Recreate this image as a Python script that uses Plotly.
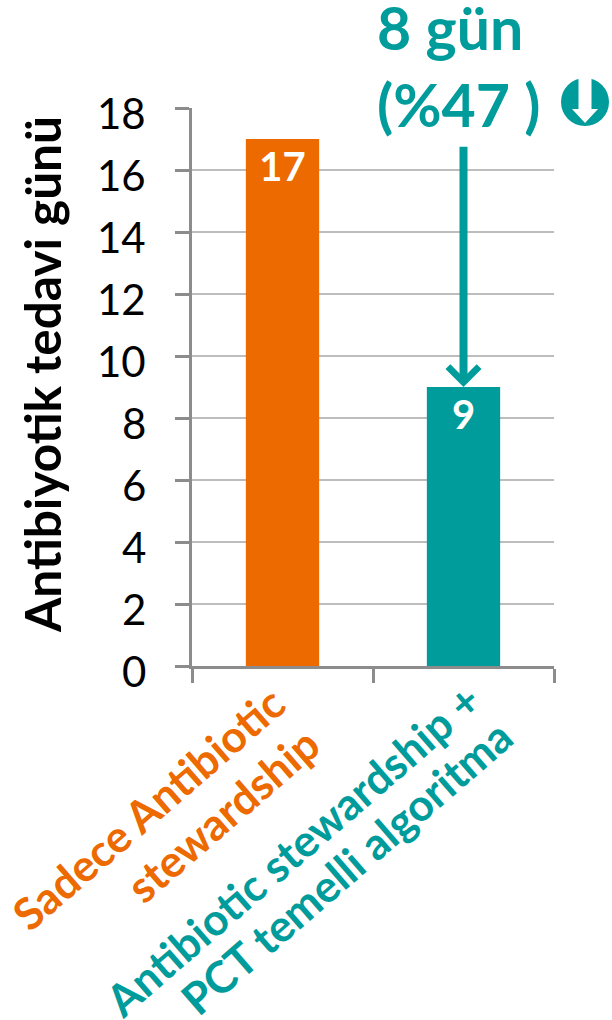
import plotly.graph_objects as go

# Treatment days per study arm
category_lines = [
    ["Sadece Antibiotic", "stewardship"],
    ["Antibiotic stewardship +", "PCT temelli algoritma"],
]
days = [17, 9]
bar_colors = ["#EC6A00", "#009B9B"]
y_ticks = [0, 2, 4, 6, 8, 10, 12, 14, 16, 18]
y_title = "Antibiyotik tedavi günü"
reduction_lines = "8 gün<br>(%47 )"
arrow_start = 16.8

FONT = "Lato, 'Open Sans', sans-serif"
TEAL = "#009B9B"
GREY = "#8C8C8C"
GRID = "#BDBDBD"
W, H = 612, 1020
L, R, T, B = 192, 554, 108, 666


def px(x):
    return (x - L) / (R - L)


def py(y):
    return (B - y) / (B - T)


fig = go.Figure(
    go.Bar(
        x=[0, 1],
        y=days,
        width=0.405,
        marker=dict(color=bar_colors, line_width=0),
        text=[str(d) for d in days],
        textposition="inside",
        insidetextanchor="end",
        textangle=0,
        textfont=dict(family=FONT, size=40, color="white", weight="bold"),
        cliponaxis=False,
        hoverinfo="skip",
    )
)

fig.update_layout(
    width=W,
    height=H,
    autosize=False,
    margin=dict(l=L, r=W - R, t=T, b=H - B),
    paper_bgcolor="white",
    plot_bgcolor="white",
    showlegend=False,
    font=dict(family=FONT),
)

fig.update_xaxes(
    range=[-0.5, 1.5],
    tickvals=[-0.5, 0.5, 1.5],
    ticktext=["", "", ""],
    ticks="outside",
    ticklen=14,
    tickwidth=3,
    tickcolor=GREY,
    showline=True,
    linecolor=GREY,
    linewidth=3,
    showgrid=False,
    zeroline=False,
)
fig.update_yaxes(
    range=[0, 18],
    tickvals=y_ticks,
    showticklabels=False,
    ticks="outside",
    ticklen=14,
    tickwidth=3,
    tickcolor=GREY,
    showline=True,
    linecolor=GREY,
    linewidth=3,
    showgrid=True,
    gridcolor=GRID,
    gridwidth=2,
    zeroline=False,
    title=None,
)

# Value labels sit a little below their grid lines
for tick in y_ticks:
    fig.add_annotation(
        x=px(148), y=tick, xref="paper", yref="y", yshift=-5,
        text=str(tick), showarrow=False, xanchor="right", yanchor="middle",
        font=dict(family=FONT, size=42, color="black"),
    )

# Axis title
fig.add_annotation(
    x=px(42), y=py(375), xref="paper", yref="paper",
    text=y_title, textangle=-90, showarrow=False, xanchor="center", yanchor="middle",
    font=dict(family=FONT, size=49.5, color="black", weight="bold"),
)

# Slanted category labels in each bar's colour, one annotation per line
line_centres = [[(148, 808), (222, 815)], [(292, 850), (346, 867)]]
for lines, color, centres in zip(category_lines, bar_colors, line_centres):
    for line, (lx, ly) in zip(lines, centres):
        fig.add_annotation(
            x=px(lx), y=py(ly), xref="paper", yref="paper",
            text=line, textangle=-41, showarrow=False,
            xanchor="center", yanchor="middle",
            font=dict(family=FONT, size=44, color=color, weight="bold"),
        )

# Reduction arrow between the two bar heights
fig.add_annotation(
    x=1, y=days[1], xref="x", yref="y",
    ax=1, ay=arrow_start, axref="x", ayref="y",
    text="", showarrow=True, arrowhead=4, arrowsize=0.75, arrowwidth=8,
    arrowcolor=TEAL, standoff=0,
)
fig.add_annotation(
    x=px(459), y=py(66), xref="paper", yref="paper",
    text=f"<b>{reduction_lines}</b>", showarrow=False, align="left",
    xanchor="center", yanchor="middle",
    font=dict(family=FONT, size=59, color=TEAL),
)

# Round "down" badge next to the percentage
cx, cy, r = 585, 102, 24
fig.add_shape(
    type="circle", xref="paper", yref="paper", layer="above",
    x0=px(cx - r), x1=px(cx + r), y0=py(cy + r), y1=py(cy - r),
    fillcolor=TEAL, line_width=0,
)
outline = [(-6.5, -25), (-6.5, 7), (-13, 7), (0, 21), (13, 7), (6.5, 7), (6.5, -25)]
path = "M " + " L ".join(f"{px(cx + a):.5f} {py(cy + b):.5f}" for a, b in outline) + " Z"
fig.add_shape(type="path", xref="paper", yref="paper", layer="above", path=path, fillcolor="white", line_width=0)

fig.write_html("out.html")
